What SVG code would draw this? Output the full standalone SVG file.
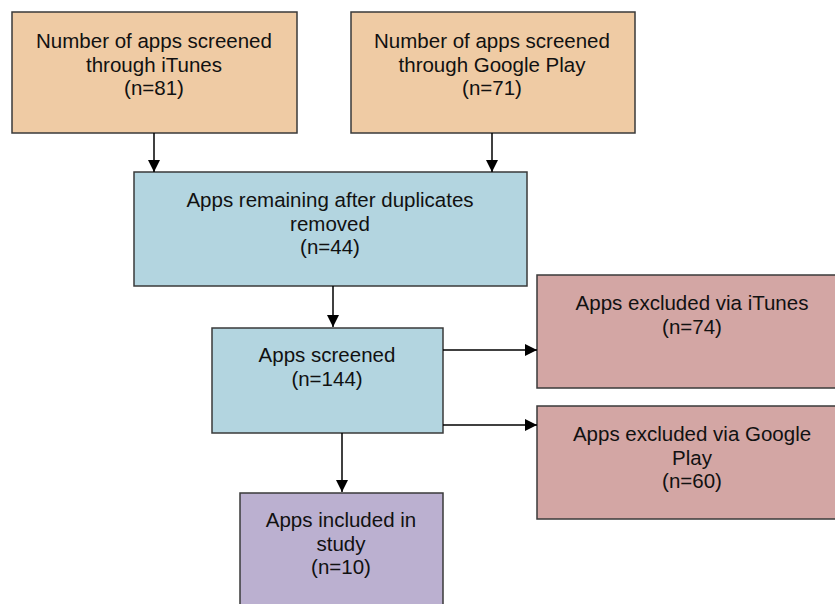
<svg xmlns="http://www.w3.org/2000/svg" width="835" height="604" viewBox="0 0 835 604">
<defs>
<marker id="ah" markerWidth="12" markerHeight="12" refX="12" refY="6" orient="auto" markerUnits="userSpaceOnUse">
<path d="M0,0 L12,6 L0,12 Z" fill="#000"/>
</marker>
<style>
.box{stroke:#3a3a3a;stroke-width:1.5}
.o{fill:#EFCBA4}
.b{fill:#B3D5E0}
.r{fill:#D3A6A4}
.p{fill:#BBB0D0}
text{font-family:"Liberation Sans",Arial,sans-serif;font-size:20.5px;fill:#111;text-anchor:middle}
.c{stroke:#000;stroke-width:1.5;fill:none;marker-end:url(#ah)}
</style>
</defs>
<rect width="835" height="604" fill="#fff"/>
<g id="itunes">
<rect class="box o" x="12" y="12" width="285" height="121"/>
<text x="154" y="48">Number of apps screened</text>
<text x="154" y="72">through iTunes</text>
<text x="154" y="95">(n=81)</text>
</g>
<g id="google">
<rect class="box o" x="351" y="12" width="284" height="121"/>
<text x="492" y="48">Number of apps screened</text>
<text x="492" y="72">through Google Play</text>
<text x="492" y="95">(n=71)</text>
</g>
<g id="remaining">
<rect class="box b" x="134" y="172" width="393" height="114"/>
<text x="330" y="207">Apps remaining after duplicates</text>
<text x="330" y="231">removed</text>
<text x="330" y="254">(n=44)</text>
</g>
<g id="screened">
<rect class="box b" x="212" y="328" width="231" height="105"/>
<text x="327" y="362">Apps screened</text>
<text x="327" y="386">(n=144)</text>
</g>
<g id="excl-itunes">
<rect class="box r" x="537" y="275" width="310" height="113"/>
<text x="692" y="310">Apps excluded via iTunes</text>
<text x="692" y="334">(n=74)</text>
</g>
<g id="excl-google">
<rect class="box r" x="537" y="406" width="310" height="113"/>
<text x="692" y="441">Apps excluded via Google</text>
<text x="692" y="465">Play</text>
<text x="692" y="488">(n=60)</text>
</g>
<g id="included">
<rect class="box p" x="240" y="493" width="203" height="125"/>
<text x="341" y="527">Apps included in</text>
<text x="341" y="551">study</text>
<text x="341" y="574">(n=10)</text>
</g>
<g id="connectors">
<line class="c" x1="154" y1="133" x2="154" y2="172"/>
<line class="c" x1="492" y1="133" x2="492" y2="172"/>
<line class="c" x1="333" y1="286" x2="333" y2="327"/>
<line class="c" x1="443" y1="350" x2="537" y2="350"/>
<line class="c" x1="443" y1="425" x2="537" y2="425"/>
<line class="c" x1="342" y1="433" x2="342" y2="492"/>
</g>
</svg>
